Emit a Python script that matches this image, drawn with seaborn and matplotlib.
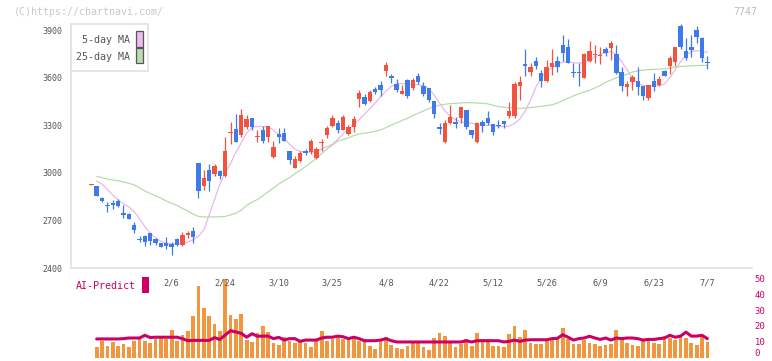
import numpy as np
import pandas as pd
import seaborn as sns
import matplotlib.pyplot as plt
from matplotlib.patches import Rectangle

# candle data (open, high, low, close), index 0 = first day shown
opens = [2925, 2917, 2842, 2800, 2812, 2825, 2745, 2741, 2671, 2583,
         2602, 2621, 2583, 2556, 2556, 2552, 2580, 2546, 2611, 2634,
         3062, 2919, 3018, 2995, 3012, 2982, 3248, 3276, 3241, 3291,
         3346, 3228, 3270, 3228, 3100, 3247, 3251, 3138, 3033, 3075,
         3136, 3131, 3096, 3188, 3241, 3297, 3314, 3272, 3247, 3291,
         3467, 3478, 3455, 3528, 3553, 3642, 3610, 3560, 3499, 3585,
         3535, 3610, 3545, 3532, 3453, 3291, 3196, 3314, 3318, 3348,
         3396, 3272, 3196, 3322, 3348, 3306, 3301, 3329, 3360, 3358,
         3549, 3686, 3635, 3705, 3629, 3579, 3667, 3705, 3805, 3793,
         3633, 3633, 3600, 3705, 3740, 3734, 3780, 3787, 3749, 3635,
         3541, 3572, 3579, 3547, 3472, 3579, 3554, 3642, 3673, 3698,
         3925, 3768, 3793, 3900, 3850, 3698]
highs = [2932, 2918, 2845, 2818, 2830, 2833, 2795, 2745, 2688, 2602,
         2608, 2621, 2592, 2556, 2598, 2566, 2592, 2630, 2634, 2659,
         3062, 3018, 3056, 3056, 3018, 3226, 3320, 3371, 3402, 3364,
         3346, 3270, 3295, 3295, 3203, 3283, 3283, 3138, 3106, 3140,
         3148, 3213, 3163, 3213, 3295, 3362, 3331, 3364, 3301, 3356,
         3520, 3499, 3524, 3541, 3579, 3696, 3623, 3591, 3553, 3591,
         3595, 3629, 3570, 3532, 3453, 3312, 3331, 3427, 3352, 3415,
         3396, 3272, 3322, 3331, 3390, 3306, 3331, 3329, 3448, 3575,
         3610, 3780, 3694, 3730, 3648, 3711, 3780, 3736, 3868, 3843,
         3690, 3690, 3755, 3831, 3805, 3793, 3793, 3831, 3805, 3667,
         3579, 3617, 3667, 3547, 3554, 3629, 3610, 3648, 3736, 3793,
         3938, 3850, 3870, 3925, 3856, 3736]
lows = [2924, 2855, 2815, 2750, 2775, 2783, 2713, 2710, 2623, 2564,
        2541, 2548, 2543, 2533, 2518, 2485, 2539, 2541, 2592, 2560,
        2844, 2892, 2888, 2982, 2961, 2974, 3184, 3196, 3228, 3278,
        3272, 3196, 3190, 3196, 3096, 3190, 3203, 3058, 3033, 3070,
        3112, 3121, 3087, 3136, 3218, 3291, 3251, 3270, 3236, 3259,
        3417, 3427, 3448, 3499, 3486, 3612, 3564, 3507, 3499, 3474,
        3524, 3562, 3486, 3448, 3348, 3247, 3190, 3310, 3285, 3312,
        3276, 3218, 3190, 3255, 3301, 3238, 3285, 3285, 3345, 3343,
        3459, 3610, 3610, 3656, 3543, 3572, 3617, 3635, 3705, 3690,
        3606, 3547, 3600, 3700, 3692, 3686, 3738, 3711, 3623, 3516,
        3484, 3522, 3490, 3459, 3459, 3516, 3547, 3610, 3623, 3673,
        3780, 3711, 3730, 3816, 3698, 3654]
closes = [2930, 2856, 2820, 2790, 2800, 2792, 2732, 2712, 2642, 2574,
          2567, 2570, 2560, 2535, 2541, 2531, 2548, 2608, 2621, 2596,
          2888, 2968, 2950, 3043, 2977, 3138, 3257, 3196, 3364, 3339,
          3291, 3234, 3203, 3295, 3163, 3228, 3203, 3081, 3087, 3125,
          3122, 3201, 3150, 3194, 3283, 3348, 3272, 3352, 3289, 3339,
          3505, 3432, 3509, 3507, 3524, 3679, 3596, 3524, 3516, 3486,
          3585, 3570, 3495, 3461, 3369, 3276, 3314, 3352, 3308, 3415,
          3289, 3238, 3314, 3297, 3314, 3255, 3293, 3310, 3390, 3560,
          3575, 3676, 3667, 3675, 3581, 3667, 3692, 3667, 3757, 3692,
          3626, 3626, 3751, 3768, 3751, 3742, 3757, 3818, 3629, 3547,
          3560, 3604, 3541, 3484, 3554, 3541, 3591, 3610, 3724, 3793,
          3793, 3724, 3774, 3856, 3724, 3692]

# moving averages, from day 1 on
ma5 = [2949, 2928, 2895, 2860, 2830, 2805, 2785, 2755, 2710, 2660,
       2620, 2590, 2568, 2556, 2552, 2553, 2556, 2563, 2577, 2600,
       2640, 2735, 2830, 2930, 3000, 3060, 3130, 3190, 3250, 3287,
       3292, 3292, 3290, 3270, 3240, 3215, 3180, 3150, 3135, 3130,
       3130, 3135, 3150, 3165, 3180, 3210, 3245, 3275, 3305, 3335,
       3370, 3405, 3440, 3480, 3515, 3545, 3560, 3562, 3560, 3558,
       3555, 3550, 3530, 3490, 3440, 3390, 3355, 3335, 3320, 3315,
       3312, 3305, 3300, 3300, 3298, 3292, 3292, 3295, 3310, 3340,
       3390, 3460, 3540, 3600, 3640, 3660, 3685, 3698, 3700, 3694,
       3692, 3695, 3705, 3730, 3748, 3755, 3765, 3745, 3700, 3650,
       3600, 3565, 3550, 3547, 3547, 3550, 3560, 3600, 3650, 3700,
       3740, 3765, 3770, 3765, 3760]
ma25 = [2978, 2970, 2960, 2955, 2950, 2942, 2934, 2924, 2905, 2885,
        2870, 2855, 2840, 2822, 2808, 2795, 2775, 2760, 2740, 2725,
        2722, 2722, 2722, 2723, 2725, 2735, 2745, 2765, 2795, 2815,
        2832, 2855, 2880, 2905, 2930, 2950, 2970, 2995, 3015, 3040,
        3065, 3090, 3120, 3150, 3175, 3200, 3210, 3220, 3235, 3245,
        3250, 3255, 3262, 3270, 3285, 3300, 3315, 3330, 3343, 3360,
        3375, 3390, 3405, 3417, 3427, 3432, 3436, 3438, 3440, 3442,
        3442, 3440, 3438, 3435, 3425, 3417, 3413, 3410, 3407, 3406,
        3408, 3411, 3415, 3420, 3424, 3428, 3440, 3455, 3470, 3485,
        3498, 3510, 3520, 3535, 3550, 3570, 3585, 3598, 3610, 3622,
        3635, 3642, 3647, 3650, 3652, 3654, 3655, 3660, 3667, 3670,
        3672, 3675, 3676, 3677, 3677]

# lower panel: bars and AI-Predict line, from day 1 on
volume = [6.7, 10.5, 7.4, 9.9, 7.4, 8.6, 6.7, 10.5, 12.4, 10.5,
          9.2, 11.8, 13.0, 11.8, 17.4, 10.5, 14.3, 16.8, 26.2, 45.1,
          31.3, 26.2, 21.4, 16.8, 49.5, 26.9, 24.3, 27.5, 11.1, 9.9,
          15.5, 19.9, 16.2, 9.2, 8.0, 13.0, 10.5, 9.2, 11.1, 9.2,
          6.7, 11.1, 16.8, 10.5, 11.8, 13.0, 11.8, 13.0, 12.4, 10.5,
          11.1, 7.4, 5.5, 11.8, 13.0, 8.0, 6.1, 5.5, 7.4, 9.2,
          10.5, 6.7, 4.8, 12.4, 15.5, 13.6, 9.2, 6.7, 8.6, 11.8,
          7.4, 15.5, 11.8, 11.8, 7.4, 7.4, 6.7, 14.9, 19.9, 13.0,
          17.4, 9.2, 8.6, 8.6, 10.5, 11.8, 11.8, 18.7, 11.8, 8.6,
          8.6, 11.1, 9.2, 8.6, 7.4, 8.0, 8.6, 17.4, 12.4, 9.2,
          8.0, 7.4, 10.5, 10.5, 9.2, 8.6, 13.6, 12.4, 11.1, 13.6,
          12.4, 9.2, 8.0, 13.0, 9.9]
ai_predict = [11.8, 11.8, 11.8, 11.8, 11.8, 12.0, 12.4, 12.4, 12.4, 14.1,
              12.7, 12.9, 12.9, 12.9, 12.9, 12.9, 12.0, 10.7, 10.9, 10.9,
              10.9, 10.9, 12.6, 11.5, 14.3, 17.0, 16.2, 15.3, 12.9, 15.1,
              13.5, 13.6, 13.6, 12.0, 12.8, 11.1, 12.0, 12.0, 10.3, 11.1,
              11.1, 11.1, 12.4, 12.9, 12.9, 13.6, 13.2, 12.0, 12.9, 12.0,
              10.7, 10.7, 10.7, 11.1, 12.0, 10.7, 9.9, 9.9, 9.9, 9.9,
              9.9, 9.9, 9.9, 9.9, 9.9, 9.9, 9.9, 9.9, 9.9, 10.7,
              9.9, 10.7, 10.7, 10.7, 10.7, 10.7, 9.9, 10.3, 11.1, 10.3,
              11.1, 11.3, 11.3, 11.3, 11.3, 12.0, 12.2, 14.5, 12.9, 11.1,
              12.0, 12.4, 13.5, 12.4, 11.5, 12.4, 11.1, 12.4, 12.0, 12.4,
              12.4, 12.0, 11.1, 11.5, 11.5, 12.0, 12.4, 14.1, 12.9, 13.6,
              16.1, 13.6, 13.6, 14.1, 12.0]

date_labels = ["2/6", "2/24", "3/10", "3/25", "4/8", "4/22",
               "5/12", "5/26", "6/9", "6/23", "7/7"]
date_pos = [15, 25, 35, 45, 55, 65, 75, 85, 95, 105, 115]

RED = "#f2533f"
BLUE = "#3e7ae8"
GRID = "#e2e2e2"
TXT = "#555555"
CRIMSON = "#cc0066"

sns.set_theme(style="white")
plt.rcParams["font.family"] = ["DejaVu Sans Mono"]

W, H = 772, 361
fig = plt.figure(figsize=(W / 100, H / 100), dpi=100)
ax = fig.add_axes([71 / W, (H - 268) / H, 681 / W, 244 / H])
ax2 = fig.add_axes([71 / W, (H - 357.7) / H, 681 / W, 79.4 / H])

xlim = (-3.79, 123.33)

# candlesticks
df = pd.DataFrame({"o": opens, "h": highs, "l": lows, "c": closes})
df["x"] = np.arange(len(df))
colors = [RED if c >= o else BLUE for o, c in zip(df.o, df.c)]
ax.vlines(df.x, df.l, df.h, colors=colors, lw=0.9, zorder=3)
body = np.maximum((df.c - df.o).abs(), 7)
ax.bar(df.x, body, bottom=np.minimum(df.o, df.c), width=0.82,
       color=colors, linewidth=0, zorder=4)

days = np.arange(1, len(df))
sns.lineplot(x=days, y=ma5, ax=ax, color="#ebb6ec", lw=0.9, zorder=2)
sns.lineplot(x=days, y=ma25, ax=ax, color="#b6dcaa", lw=0.9, zorder=2)

ax.set_xlim(*xlim)
ax.set_ylim(2400, 3938)
ax.set_yticks([2400, 2700, 3000, 3300, 3600, 3900])
ax.set_xticks(np.linspace(xlim[0], xlim[1], 12))
ax.set_xticklabels([])
ax.tick_params(axis="y", direction="inout", length=8, width=1, color=GRID,
               labelsize=6, labelcolor=TXT, pad=2)
ax.tick_params(axis="x", direction="inout", length=7, width=1, color=GRID)
for s in ["top", "right"]:
    ax.spines[s].set_visible(False)
for s in ["left", "bottom"]:
    ax.spines[s].set_color(GRID)
    ax.spines[s].set_linewidth(1.2)
ax.set_xlabel("")
ax.set_ylabel("")

# lower panel
sns.barplot(x=days, y=volume, ax=ax2, native_scale=True, color="#f0963f",
            saturation=1, width=0.7, errorbar=None, linewidth=0, zorder=2)
sns.lineplot(x=days, y=ai_predict, ax=ax2, color=CRIMSON, lw=2.2, zorder=3)
ax2.set_xlim(*xlim)
ax2.set_ylim(0, 50)
ax2.set_xticks([])
ax2.yaxis.tick_right()
ax2.set_yticks([0, 10, 20, 30, 40, 50])
ax2.tick_params(axis="y", length=0, labelsize=6.4, labelcolor=CRIMSON, pad=2)
for s in ax2.spines.values():
    s.set_visible(False)
ax2.patch.set_alpha(0)
ax2.set_xlabel("")
ax2.set_ylabel("")
# keep the bottom "0" inside the image
ax2.get_yticklabels()[0].set_va("bottom")

for lab, pos in zip(date_labels, date_pos):
    ax2.text(pos, 47, lab, ha="center", va="center", fontsize=6.2, color=TXT)

# texts and legend box
def fx(px):
    return px / W

def fy(py):
    return 1 - py / H

fig.text(fx(14), fy(12), "(C)https://chartnavi.com/", fontsize=7.2,
         color="#c8c8c8", ha="left", va="center")
fig.text(fx(757), fy(12), "7747", fontsize=7.2, color="#bdbdbd",
         ha="right", va="center")

fig.patches.append(Rectangle((fx(71), fy(71.3)), fx(148.3) - fx(71),
                             fy(24) - fy(71.3), transform=fig.transFigure,
                             facecolor="white", edgecolor=GRID, lw=1.2,
                             zorder=5))
fig.text(fx(129.5), fy(40), "5-day MA", fontsize=7.2, color=TXT,
         ha="right", va="center", zorder=6)
fig.text(fx(129.5), fy(57), "25-day MA", fontsize=7.2, color=TXT,
         ha="right", va="center", zorder=6)
fig.patches.append(Rectangle((fx(136.3), fy(46.7)), fx(6.4), fy(0) - fy(15.5),
                             transform=fig.transFigure, facecolor="#efb8ee",
                             edgecolor="#555555", lw=0.9, zorder=6))
fig.patches.append(Rectangle((fx(136.3), fy(63.3)), fx(6.4), fy(0) - fy(15.0),
                             transform=fig.transFigure, facecolor="#b9dcb1",
                             edgecolor="#555555", lw=0.9, zorder=6))

fig.text(fx(76), fy(286), "AI-Predict", fontsize=7.2, color=CRIMSON,
         ha="left", va="center")
fig.patches.append(Rectangle((fx(142.3), fy(293)), fx(6.3), fy(0) - fy(16),
                             transform=fig.transFigure, facecolor=CRIMSON,
                             edgecolor="none"))

fig.savefig("out.png", dpi=100, facecolor="white")
